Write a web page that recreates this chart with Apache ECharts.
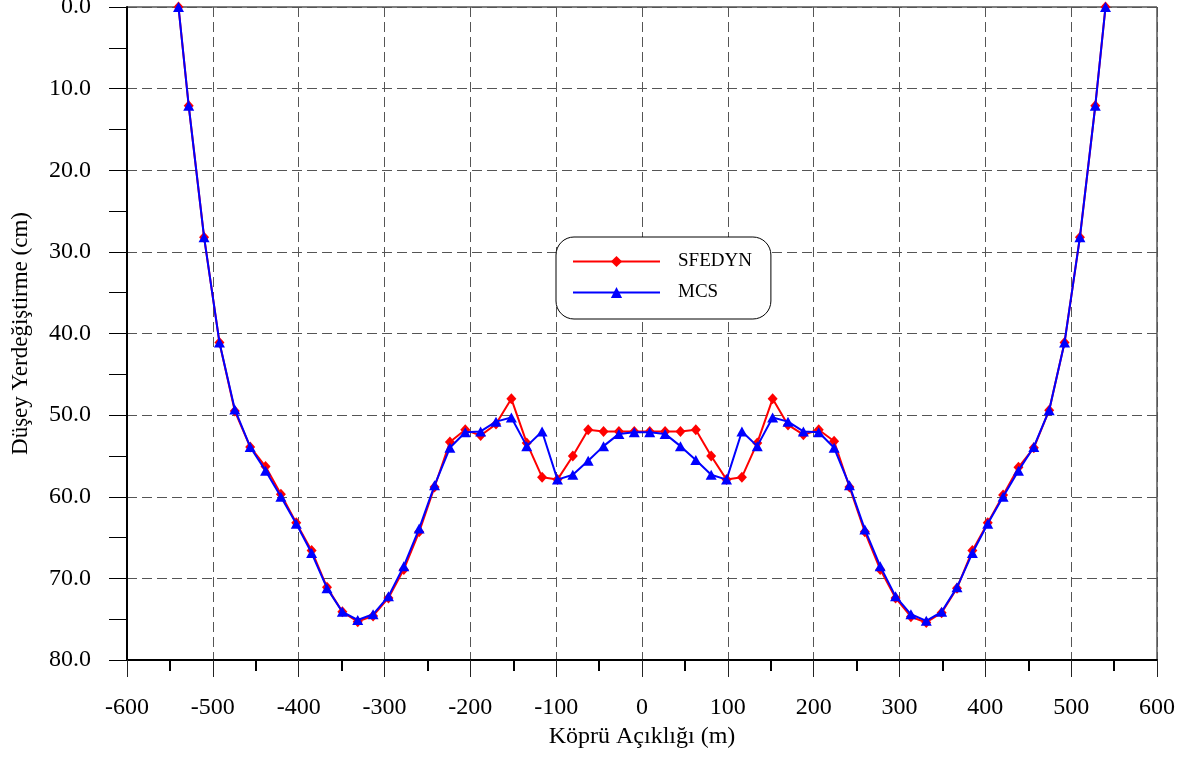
<!DOCTYPE html>
<html>
<head>
<meta charset="utf-8">
<script src="https://cdn.jsdelivr.net/npm/echarts@6/dist/echarts.min.js"></script>
<style>
html,body{margin:0;padding:0;background:#fff;}
#c{width:1192px;height:758px;}
</style>
</head>
<body>
<div id="c"></div>
<script>
const xVals = [-540, -528.1, -510.2, -492.3, -474.4, -456.5, -438.6, -420.7, -402.8, -384.9, -367, -349.1, -331.2, -313.3, -295.4, -277.5, -259.6, -241.7, -223.8, -205.9, -188, -170.1, -152.2, -134.3, -116.4, -98.5, -80.6, -62.7, -44.8, -26.9, -9,
  9, 26.9, 44.8, 62.7, 80.6, 98.5, 116.4, 134.3, 152.2, 170.1, 188, 205.9, 223.8, 241.7, 259.6, 277.5, 295.4, 313.3, 331.2, 349.1, 367, 384.9, 402.8, 420.7, 438.6, 456.5, 474.4, 492.3, 510.2, 528.1, 540];

const sfedyn = [0, 12.1, 28.2, 41.1, 49.5, 53.9, 56.3, 59.7, 63.2, 66.6, 71.1, 74.1, 75.3, 74.6, 72.4, 68.9, 64.3, 58.8, 53.3, 51.8, 52.5, 51.1, 48.0, 53.4, 57.6, 57.9, 55.0, 51.8, 52.0, 52.0, 52.0,
  52.0, 52.0, 52.0, 51.8, 55.0, 57.9, 57.6, 53.4, 48.0, 51.2, 52.4, 51.8, 53.2, 58.8, 64.3, 68.9, 72.4, 74.7, 75.4, 74.2, 71.2, 66.6, 63.2, 59.8, 56.4, 54.0, 49.4, 41.1, 28.2, 12.1, 0];

const mcs = [0, 12.1, 28.2, 41.1, 49.3, 53.9, 56.8, 60.0, 63.3, 66.9, 71.2, 74.1, 75.1, 74.4, 72.2, 68.5, 63.9, 58.6, 54.0, 52.1, 52.0, 50.8, 50.3, 53.8, 52.0, 57.9, 57.3, 55.6, 53.8, 52.3, 52.1,
  52.1, 52.3, 53.8, 55.5, 57.3, 57.9, 52.0, 53.8, 50.3, 50.8, 52.0, 52.1, 54.0, 58.6, 64.0, 68.5, 72.2, 74.4, 75.2, 74.1, 71.1, 66.9, 63.3, 60.0, 56.8, 53.9, 49.4, 41.1, 28.2, 12.1, 0];

const seriesNames = ['SFEDYN', 'MCS'];
const xAxisTitle = 'Köprü Açıklığı (m)';
const yAxisTitle = 'Düşey Yerdeğiştirme (cm)';

const FONT = '"Liberation Serif", "DejaVu Serif", serif';
const pairs = (ys) => xVals.map((x, i) => [x, ys[i]]);

const chart = echarts.init(document.getElementById('c'), null, {renderer: 'canvas'});
const gridLine = {show: true, lineStyle: {color: '#555', width: 1, type: [10, 5]}};

chart.setOption({
  animation: false,
  backgroundColor: '#fff',
  grid: {left: 127, right: 35, top: 7, bottom: 98, show: true, borderColor: '#000', borderWidth: 1,
         backgroundColor: 'transparent', containLabel: false, outerBoundsMode: 'none'},
  legend: {
    orient: 'vertical',
    left: 556, top: 237,
    data: seriesNames,
    itemWidth: 87, itemHeight: 14, itemGap: 12,
    padding: [15, 19, 17, 16],
    borderColor: '#000', borderWidth: 1, borderRadius: 18,
    backgroundColor: '#fff',
    textStyle: {fontFamily: FONT, fontSize: 19, lineHeight: 14, color: '#000', padding: [0, 0, 0, 13]}
  },
  xAxis: {
    type: 'value', min: -600, max: 600, interval: 100,
    axisLine: {show: true, onZero: false, lineStyle: {color: '#000', width: 2}},
    axisTick: {show: true, length: 17, lineStyle: {color: '#222', width: 1}},
    minorTick: {show: true, splitNumber: 2, length: 11, lineStyle: {color: '#000', width: 2}},
    splitLine: gridLine,
    axisLabel: {fontFamily: FONT, fontSize: 24, color: '#000', margin: 36},
    name: xAxisTitle, nameLocation: 'middle', nameGap: 62,
    nameTextStyle: {fontFamily: FONT, fontSize: 24, color: '#000'}
  },
  yAxis: {
    type: 'value', min: 0, max: 80, interval: 10, inverse: true,
    axisLine: {show: true, onZero: false, lineStyle: {color: '#000', width: 2}},
    axisTick: {show: true, length: 18, lineStyle: {color: '#000', width: 1}},
    minorTick: {show: true, splitNumber: 2, length: 18, lineStyle: {color: '#000', width: 1}},
    splitLine: gridLine,
    axisLabel: {fontFamily: FONT, fontSize: 24, color: '#000', margin: 36, formatter: v => v.toFixed(1)},
    name: yAxisTitle, nameLocation: 'middle', nameGap: 95, nameRotate: 90,
    nameTextStyle: {fontFamily: FONT, fontSize: 23, color: '#000'}
  },
  series: [
    {
      name: seriesNames[0], type: 'line', data: pairs(sfedyn),
      symbol: 'diamond', symbolSize: [10, 11], showAllSymbol: true,
      lineStyle: {color: '#ff0000', width: 2},
      itemStyle: {color: '#ff0000'}, z: 2
    },
    {
      name: seriesNames[1], type: 'line', data: pairs(mcs),
      symbol: 'triangle', symbolSize: [11, 10], showAllSymbol: true,
      lineStyle: {color: '#0000ff', width: 2},
      itemStyle: {color: '#0000ff'}, z: 3
    }
  ]
});
</script>
</body>
</html>
